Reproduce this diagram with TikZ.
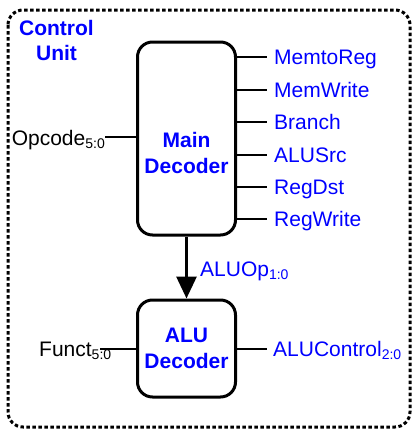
\documentclass[tikz,border=0pt]{standalone}
\usepackage{fontspec}
\setmainfont{Liberation Sans}
\usetikzlibrary{arrows.meta}
\definecolor{sigblue}{RGB}{0,0,255}
\newcommand\mysub[1]{\raisebox{-3.5pt}{\fontsize{14}{14}\selectfont #1}}
\begin{document}
\begin{tikzpicture}[x=1pt,y=-1pt,
  txt/.style={font=\fontsize{21}{26}\selectfont, inner sep=0pt},
  sig/.style={txt, text=sigblue},
  blocktitle/.style={txt, text=sigblue, font=\fontsize{21}{26}\selectfont\bfseries, align=center},
  decbox/.style={draw, line width=3pt, rounded corners=15pt, minimum width=98pt},
  wire/.style={line width=1.5pt},
  inwire/.style={line width=2.2pt}]
\useasboundingbox (0,0) rectangle (414,431);
% outer dashed border
\draw[line width=3pt, dash pattern=on 3.5pt off 2.5pt, rounded corners=15pt] (8,10) rectangle (410,427);
\node[blocktitle, anchor=base] (cu) at (56.5,35) {Control};
\node[blocktitle, anchor=base] (cu2) at (56.5,60) {Unit};
% main decoder
\node[decbox, minimum height=193pt] (main) at (186.5,138.5) {};
\node[blocktitle] (maintxt) at (186.5,153) {Main\\Decoder};
% outputs
\foreach \y/\name/\lab in {57/o1/MemtoReg, 90/o2/MemWrite, 122/o3/Branch, 155/o4/ALUSrc, 187/o5/RegDst, 219/o6/RegWrite}{
  \coordinate (\name) at (267,\y);
  \draw[wire] (\name -| main.east) -- (\name);
  \node[sig, anchor=base west] (\name lab) at (274,\y+7.5) {\lab};
}
% opcode
\coordinate (op) at (105,137);
\node[txt, anchor=base east] (oplab) at (105,145) {Opcode\mysub{5:0}};
\draw[inwire] (op) -- (op -| main.west);
% alu decoder
\node[decbox, minimum height=97pt] (alu) at (186.5,348.5) {};
\node[blocktitle] (alutxt) at (186.5,348.5) {ALU\\Decoder};
\draw[line width=3pt, -{Triangle[width=20pt,length=22pt]}] (main.south) -- (alu.north);
\node[sig, anchor=base west] (aluop) at (200,276) {ALUOp\mysub{1:0}};
% funct
\coordinate (fn) at (100,349);
\node[txt, anchor=base west] (fnlab) at (39,356) {Funct\mysub{5:0}};
\draw[inwire] (fn) -- (fn -| alu.west);
% alucontrol
\coordinate (ac) at (267,349);
\draw[inwire] (ac -| alu.east) -- (ac);
\node[sig, anchor=base west] (aclab) at (273,356) {ALUControl\mysub{2:0}};
\end{tikzpicture}
\end{document}
